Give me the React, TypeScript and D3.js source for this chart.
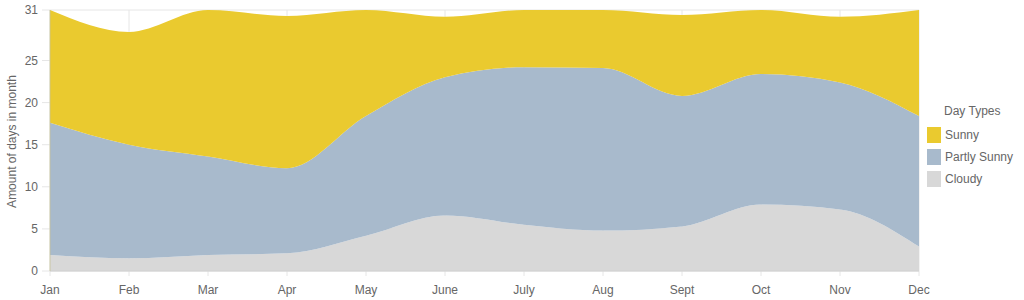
import React from "react";
import * as d3 from "d3";

const months = ["Jan", "Feb", "Mar", "Apr", "May", "June", "July", "Aug", "Sept", "Oct", "Nov", "Dec"];
const cloudy = [1.9, 1.5, 1.9, 2.1, 4.2, 6.6, 5.5, 4.8, 5.3, 7.9, 7.3, 2.9];
const partlySunny = [15.7, 13.5, 11.7, 10.1, 14.2, 16.4, 18.7, 19.3, 15.5, 15.5, 15.1, 15.5];
const sunny = [13.4, 13.4, 17.4, 18.1, 12.6, 7.2, 6.8, 6.9, 9.6, 7.6, 7.8, 12.6];
const yTicks = [0, 5, 10, 15, 20, 25, 31];
const seriesNames = ["Cloudy", "Partly Sunny", "Sunny"];
const seriesColors = ["#d8d8d8", "#a8bacc", "#eaca2f"];
const legendOrder = [2, 1, 0];

const W = 1024;
const H = 300;
const left = 50;
const right = 919;
const top = 10;
const bottom = 271;

export default function App() {
  const x = d3.scalePoint<string>().domain(months).range([left, right]);
  const y = d3.scaleLinear().domain([0, 31]).range([bottom, top]);
  const rows = months.map((m, i) => ({ m, Cloudy: cloudy[i], "Partly Sunny": partlySunny[i], Sunny: sunny[i] }));
  const stacked = d3.stack<any>().keys(seriesNames)(rows);
  const area = d3
    .area<any>()
    .x((d) => x(d.data.m) as number)
    .y0((d) => y(d[0]))
    .y1((d) => y(d[1]))
    .curve(d3.curveMonotoneX);
  const font = "'Liberation Sans', Arial, sans-serif";
  return (
    <svg width={W} height={H} style={{ position: "absolute", left: 0, top: 0 }} fontFamily={font}>
      <defs>
        <clipPath id="plot">
          <rect x={left} y={top} width={right - left} height={bottom - top} />
        </clipPath>
      </defs>
      {yTicks.map((t) => (
        <g key={t}>
          <line x1={left - 8} x2={right} y1={y(t)} y2={y(t)} stroke="#e6e6e6" />
          <text x={38} y={y(t)} dy="0.35em" textAnchor="end" fontSize={12} fill="#666">
            {t}
          </text>
        </g>
      ))}
      {months.map((m) => (
        <g key={m}>
          <line x1={x(m)} x2={x(m)} y1={top} y2={bottom + 5} stroke="#e6e6e6" />
          <text x={x(m)} y={290} dy="0.35em" textAnchor="middle" fontSize={12} fill="#666">
            {m}
          </text>
        </g>
      ))}
      <g clipPath="url(#plot)">
        {stacked.map((s, i) => (
          <path key={s.key} d={area(s) || ""} fill={seriesColors[i]} />
        ))}
      </g>
      <line x1={left} x2={right} y1={bottom} y2={bottom} stroke="#d0d0d0" />
      <line x1={left} x2={left} y1={top} y2={bottom} stroke="#c8c49a" strokeWidth={0.8} />
      <text
        transform={`translate(12,${(top + bottom) / 2 + 1}) rotate(-90)`}
        textAnchor="middle"
        dy="0.35em"
        fontSize={12}
        fill="#666"
      >
        Amount of days in month
      </text>
      <text x={944} y={111} dy="0.35em" fontSize={12} fill="#666">
        Day Types
      </text>
      {legendOrder.map((si, k) => (
        <g key={si}>
          <rect x={927} y={127 + k * 22} width={14} height={16} fill={seriesColors[si]} />
          <text x={945} y={135 + k * 22} dy="0.35em" fontSize={12} fill="#666">
            {seriesNames[si]}
          </text>
        </g>
      ))}
    </svg>
  );
}
